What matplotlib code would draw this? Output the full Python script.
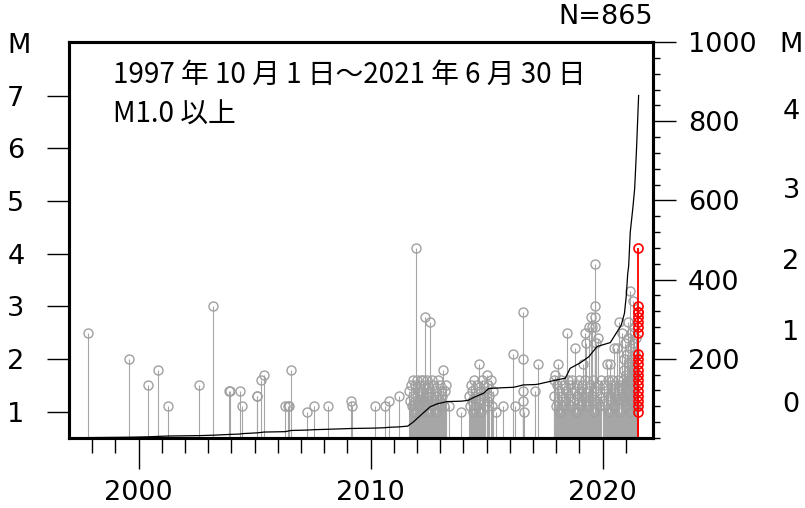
import matplotlib
matplotlib.use('Agg')
import matplotlib.pyplot as plt
from matplotlib.ticker import MultipleLocator

# events: (decimal year, magnitude)
early = [(1997.84, 2.5), (1999.59, 2.0), (2000.40, 1.5), (2000.82, 1.8), (2001.27, 1.1),
         (2002.60, 1.5), (2003.19, 3.0), (2003.90, 1.4), (2003.93, 1.4), (2004.37, 1.4),
         (2004.46, 1.1), (2005.09, 1.3), (2005.11, 1.3), (2005.27, 1.6), (2005.40, 1.7),
         (2006.32, 1.1), (2006.42, 1.1), (2006.50, 1.1), (2006.57, 1.8), (2007.27, 1.0),
         (2007.56, 1.1), (2008.15, 1.1), (2009.17, 1.2), (2009.21, 1.1), (2010.17, 1.1),
         (2010.62, 1.1), (2010.78, 1.2), (2011.21, 1.3)]

cluster_a = [(2011.64, 1.4), (2011.70, 1.2), (2011.74, 1.5), (2011.78, 1.1), (2011.81, 1.6),
             (2011.84, 1.3), (2011.87, 1.0), (2011.90, 1.5), (2011.93, 1.2), (2011.97, 4.1),
             (2012.00, 1.6), (2012.03, 1.4), (2012.06, 1.1), (2012.09, 1.5), (2012.12, 1.3),
             (2012.15, 1.6), (2012.18, 1.0), (2012.21, 1.4), (2012.24, 1.2), (2012.27, 1.6),
             (2012.30, 1.5), (2012.33, 1.1), (2012.36, 2.8), (2012.39, 1.3), (2012.42, 1.6),
             (2012.45, 1.2), (2012.48, 1.5), (2012.51, 1.0), (2012.54, 1.4), (2012.57, 2.7),
             (2012.60, 1.3), (2012.63, 1.6), (2012.66, 1.1), (2012.70, 1.5), (2012.74, 1.2),
             (2012.78, 1.4), (2012.82, 1.0), (2012.86, 1.3), (2012.89, 1.6), (2012.93, 1.1),
             (2012.97, 1.5), (2013.01, 1.2), (2013.05, 1.4), (2013.09, 1.3), (2013.12, 1.8),
             (2013.16, 1.1), (2013.20, 1.4), (2013.26, 1.5), (2013.36, 1.1), (2013.91, 1.0)]

cluster_b = [(2014.22, 1.3), (2014.27, 1.1), (2014.31, 1.5), (2014.35, 1.2), (2014.39, 1.4),
             (2014.43, 1.0), (2014.47, 1.6), (2014.51, 1.3), (2014.55, 1.1), (2014.59, 1.5),
             (2014.63, 1.2), (2014.67, 1.9), (2014.71, 1.4), (2014.75, 1.0), (2014.79, 1.6),
             (2014.83, 1.3), (2014.87, 1.5), (2014.91, 1.1), (2014.95, 1.4), (2015.00, 1.7),
             (2015.04, 1.2), (2015.08, 1.5), (2015.12, 1.3), (2015.17, 1.6), (2015.22, 1.1),
             (2015.27, 1.4), (2015.42, 1.0), (2015.71, 1.1), (2016.14, 2.1), (2016.24, 1.1),
             (2016.56, 1.2), (2016.57, 2.9), (2016.57, 2.0), (2016.58, 1.4), (2016.59, 1.0),
             (2017.10, 1.4), (2017.22, 1.9)]

cluster_c = [(2017.89, 1.6), (2017.92, 1.3), (2017.95, 1.7), (2017.99, 1.1), (2018.03, 1.5),
             (2018.06, 1.2), (2018.08, 1.9), (2018.13, 1.4), (2018.17, 1.0), (2018.21, 1.6),
             (2018.25, 1.3), (2018.29, 1.1), (2018.33, 1.5), (2018.37, 1.2), (2018.41, 1.4),
             (2018.45, 2.5), (2018.49, 1.6), (2018.57, 1.3), (2018.61, 1.5), (2018.65, 1.1),
             (2018.69, 1.6), (2018.73, 1.2), (2018.77, 1.4), (2018.80, 2.2), (2018.85, 1.0),
             (2018.89, 1.5), (2018.93, 1.3), (2018.97, 1.6), (2019.01, 1.1), (2019.05, 1.4),
             (2019.09, 1.2), (2019.13, 1.5), (2019.15, 1.9), (2019.19, 1.3), (2019.22, 1.6),
             (2019.25, 2.5), (2019.27, 2.3), (2019.33, 1.1), (2019.37, 1.4), (2019.40, 1.2),
             (2019.42, 2.6), (2019.45, 1.5), (2019.48, 2.8), (2019.52, 2.6), (2019.55, 1.3),
             (2019.59, 1.6), (2019.62, 1.0), (2019.66, 3.8), (2019.66, 2.8), (2019.67, 3.0),
             (2019.68, 2.6), (2019.70, 2.3), (2019.72, 1.4), (2019.75, 1.2), (2019.78, 2.4),
             (2019.82, 1.5), (2019.86, 1.1), (2019.90, 1.3), (2019.94, 1.6)]

cluster_d = [(2020.03, 1.2), (2020.07, 1.5), (2020.11, 1.1), (2020.14, 1.4), (2020.18, 1.9),
             (2020.21, 1.6), (2020.25, 1.3), (2020.28, 1.0), (2020.30, 1.9), (2020.34, 1.5),
             (2020.37, 1.2), (2020.41, 1.6), (2020.44, 1.4), (2020.47, 2.2), (2020.50, 1.1),
             (2020.53, 1.5), (2020.57, 1.3), (2020.60, 2.2), (2020.64, 1.6), (2020.67, 1.2),
             (2020.70, 1.4), (2020.72, 2.7), (2020.76, 1.0), (2020.79, 1.5), (2020.82, 1.3),
             (2020.84, 2.5), (2020.87, 1.6), (2020.90, 1.8), (2020.92, 1.2), (2020.94, 2.0),
             (2020.96, 1.5), (2020.98, 2.3), (2021.00, 1.1), (2021.02, 1.7), (2021.04, 2.1),
             (2021.06, 1.4), (2021.08, 2.4), (2021.10, 2.7), (2021.12, 1.9), (2021.14, 1.3),
             (2021.16, 2.2), (2021.18, 1.6), (2021.19, 3.3), (2021.21, 2.5), (2021.23, 1.0),
             (2021.25, 2.0), (2021.27, 1.5), (2021.29, 2.3), (2021.30, 3.1), (2021.31, 1.2),
             (2021.33, 1.8), (2021.35, 2.6), (2021.37, 1.4), (2021.39, 2.1), (2021.41, 1.7),
             (2021.43, 2.4), (2021.44, 1.1)]

# June 2021 events (red)
recent = [(2021.51, 4.1), (2021.51, 3.0), (2021.51, 2.9), (2021.51, 2.9), (2021.51, 2.8),
          (2021.51, 2.7), (2021.51, 2.6), (2021.51, 2.5), (2021.51, 2.1), (2021.51, 2.0),
          (2021.51, 1.9), (2021.51, 1.8), (2021.51, 1.7), (2021.51, 1.6), (2021.51, 1.5),
          (2021.51, 1.4), (2021.51, 1.3), (2021.51, 1.2), (2021.51, 1.1), (2021.51, 1.0)]

# cumulative count curve (right axis)
cum_t = [1997.75, 1997.84, 1999.59, 2000.40, 2000.82, 2001.27, 2002.60, 2003.19, 2003.91,
         2004.37, 2004.46, 2005.10, 2005.27, 2005.40, 2006.32, 2006.57, 2007.27, 2007.56,
         2008.15, 2009.17, 2010.17, 2010.62, 2010.78, 2011.21, 2011.60, 2011.85, 2012.28,
         2012.57, 2012.86, 2013.29, 2013.91, 2014.20, 2014.50, 2014.87, 2015.09, 2015.42,
         2015.71, 2016.14, 2016.24, 2016.57, 2017.10, 2017.22, 2017.89, 2018.39, 2018.60,
         2019.04, 2019.40, 2019.76, 2020.33, 2020.62, 2020.80, 2020.94, 2021.02, 2021.08,
         2021.12, 2021.19, 2021.30, 2021.38, 2021.46, 2021.52, 2021.55]
cum_n = [0, 1, 2, 3, 4, 5, 6, 7, 9,
         10, 11, 13, 14, 15, 16, 19, 20, 21,
         22, 24, 25, 26, 27, 28, 30, 41, 64,
         79, 86, 92, 93, 95, 104, 113, 125, 126,
         127, 128, 129, 134, 135, 136, 145, 151, 176,
         190, 205, 231, 241, 268, 285, 315, 360, 415,
         433, 520, 580, 630, 730, 820, 865]

grey = early + cluster_a + cluster_b + cluster_c + cluster_d
grey_t, grey_m = zip(*grey)
red_t, red_m = zip(*recent)

W, H = 805, 508
fig = plt.figure(figsize=(W / 100, H / 100), dpi=100)
ax = fig.add_axes([69 / W, 70 / H, 584 / W, 396 / H])

ax.vlines(grey_t, 0.5, grey_m, color='#a6a6a6', lw=0.8, zorder=1)
ax.plot(grey_t, grey_m, 'o', mfc='none', mec='#a0a0a0', ms=6.5, mew=1.0, zorder=2)
ax.vlines(red_t, 0.5, red_m, color='red', lw=1.3, zorder=3)
ax.plot(red_t, red_m, 'o', mfc='none', mec='red', ms=6.5, mew=1.2, zorder=4)

ax.set_xlim(1997.0, 2022.17)
ax.set_ylim(0.5, 8.02)
ax.set_yticks(range(1, 8))
ax.set_xticks([2000, 2010, 2020])
ax.set_xticks(range(1998, 2022), minor=True)
ax.tick_params(axis='y', direction='out', length=16, width=1, pad=16, labelsize=19.5)
ax.tick_params(axis='x', which='major', direction='out', length=22, width=1, pad=8, labelsize=19.5)
ax.tick_params(axis='x', which='minor', direction='out', length=11, width=1)

ax2 = ax.twinx()
ax2.plot(cum_t, cum_n, color='black', lw=0.9)
ax2.set_ylim(0, 1000)
ax2.set_yticks([200, 400, 600, 800, 1000])
ax2.yaxis.set_minor_locator(MultipleLocator(40))
ax2.tick_params(axis='y', which='major', direction='out', length=16.5, width=1, pad=8.5, labelsize=19.5)
ax2.tick_params(axis='y', which='minor', direction='out', length=5, width=1)

for a in (ax, ax2):
    for s in a.spines.values():
        s.set_linewidth(2.2)

jp = ['Noto Sans CJK JP', 'DejaVu Sans']
fig.text(113 / W, 1 - 75 / H, '1997 年 10 月 1 日～2021 年 6 月 30 日', family=jp,
         fontsize=20, ha='left', va='center')
fig.text(113 / W, 1 - 115 / H, 'M1.0 以上', family=jp, fontsize=20, ha='left', va='center')
fig.text(653 / W, 1 - 17 / H, 'N=865', fontsize=19.5, ha='right', va='center')
fig.text(19 / W, 1 - 46 / H, 'M', fontsize=19.5, ha='center', va='center')

# magnitude scale labels at the far right
right_labels = ['M', '4', '3', '2', '1', '0']
right_y = [45, 112, 191, 262, 333, 405]
for lab, yy in zip(right_labels, right_y):
    fig.text(791 / W, 1 - yy / H, lab, fontsize=19.5, ha='center', va='center')

fig.savefig('out.png', dpi=100)
